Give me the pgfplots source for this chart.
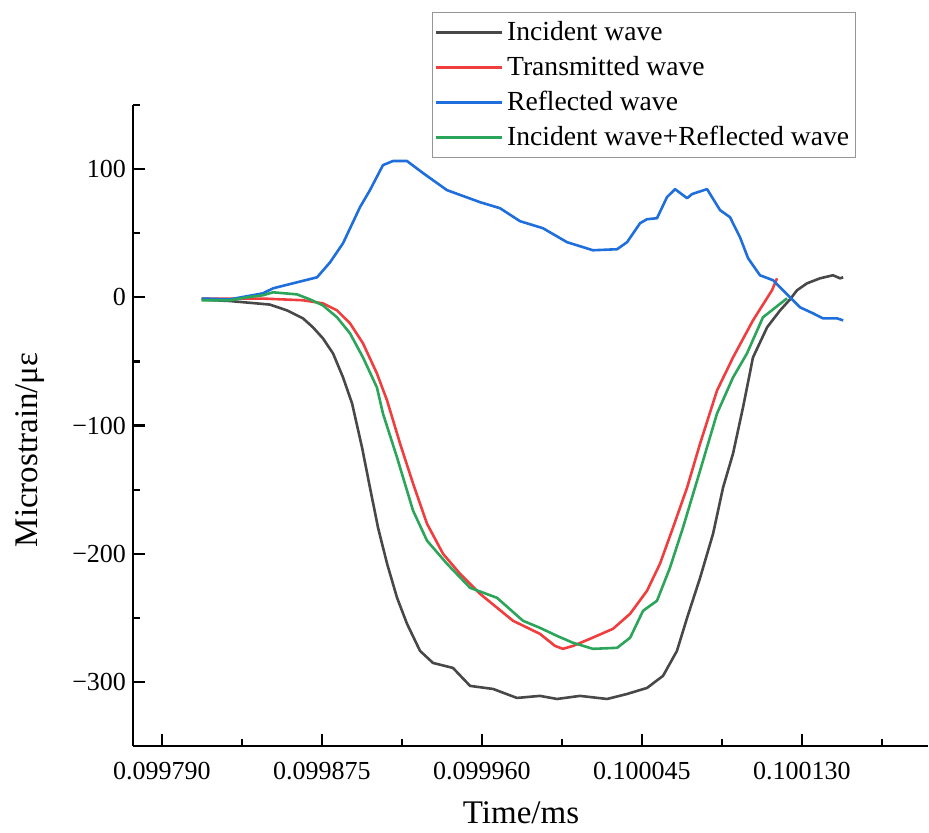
\documentclass[border=0pt]{standalone}
\usepackage{pgfplots}
\pgfplotsset{compat=1.18}
\usepackage{fontspec}
\setmainfont{Liberation Serif}
\definecolor{cInc}{RGB}{72,72,72}
\definecolor{cTra}{RGB}{240,62,62}
\definecolor{cRef}{RGB}{30,110,220}
\definecolor{cSum}{RGB}{42,165,90}
\begin{document}
\begin{tikzpicture}
\begin{axis}[
  name=ax, at={(0,0)}, anchor=south west,
  width=397.5pt, height=320.5pt, scale only axis,
  xmin=-15.4, xmax=407, ymin=-350, ymax=150,
  axis x line*=bottom, axis y line*=left,
  tick align=inside,
  axis line style={line width=1.1pt, black},
  every tick/.style={black, line width=1.1pt},
  major tick length=6pt, minor tick length=3.5pt,
  xtick={0,85,170,255,340},
  xticklabels={\textrm{0.099790},\textrm{0.099875},\textrm{0.099960},\textrm{0.100045},\textrm{0.100130}},
  minor xtick={42.5,127.5,212.5,297.5,382.5},
  ytick={-300,-200,-100,0,100},
  yticklabels={\textrm{−300},\textrm{−200},\textrm{−100},\textrm{0},\textrm{100}},
  minor ytick={-350,-250,-150,-50,50,150},
  xticklabel style={font=\fontsize{13}{15}\selectfont, yshift=-4.5pt},
  yticklabel style={font=\fontsize{13}{15}\selectfont},
  xlabel={Time/ms},
  ylabel={Microstrain/με},
  xlabel style={font=\fontsize{16.5}{19}\selectfont, at={(axis description cs:0.488,-0.1045)}, anchor=center},
  ylabel style={font=\fontsize{16.5}{19}\selectfont, at={(axis description cs:-0.1296,0.462)}, anchor=center},
  legend cell align=left,
  legend image code/.code={\draw[#1, line width=1.3pt] (0pt,0pt) -- (33pt,0pt);},
  legend style={at={(axis description cs:0.376,1.145)}, anchor=north west,
    draw={rgb,255:red,150;green,150;blue,150}, line width=0.6pt,
    font=\fontsize{13.8}{16}\selectfont, inner xsep=1pt, inner ysep=2.5pt,
    row sep=2.3pt},
]
\addplot[cInc, line width=1.3pt, line join=round] coordinates {
(21.1,-1.8)(36.1,-2.9)(48.4,-4.5)(57.4,-5.7)(66.4,-10.2)(74.9,-16.4)(80.2,-23.4)(85.5,-32.0)(90.9,-43.8)(96.2,-62.5)(101.0,-82.8)(106.3,-117.2)(110.5,-148.4)(114.8,-179.7)(119.6,-207.8)(124.9,-234.4)(130.2,-254.7)(137.1,-275.8)(144.0,-285.2)(154.6,-289.1)(163.7,-303.1)(175.9,-305.5)(188.6,-312.5)(200.8,-310.9)(209.9,-313.3)(222.1,-310.9)(236.5,-313.3)(247.1,-309.4)(257.7,-304.7)(266.2,-295.3)(273.6,-275.8)(279.0,-250.0)(285.9,-218.8)(292.8,-184.4)(298.1,-148.4)(303.4,-121.9)(308.7,-85.9)(314.0,-46.9)(321.5,-23.4)(328.4,-10.2)(333.7,-1.6)(337.4,5.5)(342.7,10.9)(349.6,14.8)(356.5,17.2)(360.3,14.8)(361.9,15.6)
};
\addlegendentry{Incident wave}
\addplot[cTra, line width=1.3pt, line join=round] coordinates {
(21.1,-1.0)(53.7,-1.0)(74.9,-2.3)(85.5,-4.7)(93.0,-10.2)(99.9,-20.3)(106.8,-35.9)(114.2,-59.4)(119.6,-80.5)(126.5,-114.1)(133.4,-145.3)(140.8,-176.6)(149.3,-200.0)(158.3,-215.6)(169.0,-231.3)(186.5,-252.3)(200.8,-262.5)(208.8,-271.9)(213.0,-274.2)(218.4,-271.9)(227.4,-266.4)(239.6,-258.6)(248.7,-246.9)(257.7,-228.9)(264.6,-207.8)(271.5,-179.7)(279.0,-148.4)(285.9,-114.1)(294.9,-72.7)(303.4,-46.9)(314.0,-18.0)(324.1,5.5)(326.8,14.8)
};
\addlegendentry{Transmitted wave}
\addplot[cRef, line width=1.3pt, line join=round] coordinates {
(21.1,-1.0)(36.1,-1.6)(53.6,3.1)(59.0,7.0)(71.7,11.7)(82.4,15.6)(89.3,27.3)(96.2,42.2)(105.2,70.3)(110.5,83.6)(117.4,103.1)(122.7,106.3)(130.2,106.3)(138.7,96.9)(151.4,83.6)(169.0,74.2)(179.6,69.5)(190.2,59.4)(202.4,53.9)(215.2,43.0)(229.0,36.7)(241.8,37.5)(247.1,43.0)(254.0,57.8)(257.7,60.9)(263.0,61.7)(268.3,78.1)(272.6,84.4)(279.0,77.3)(281.6,80.5)(289.6,84.4)(296.5,68.0)(301.8,62.5)(307.1,46.9)(311.4,30.5)(317.7,17.2)(324.7,13.3)(333.7,0)(339.0,-7.8)(345.9,-12.5)(351.2,-16.4)(358.7,-16.4)(361.9,-18.0)
};
\addlegendentry{Reflected wave}
\addplot[cSum, line width=1.3pt, line join=round] coordinates {
(21.1,-2.3)(36.1,-2.3)(45.2,0)(53.7,1.6)(59.0,3.9)(71.7,2.3)(78.6,-1.6)(85.5,-6.3)(93.0,-15.6)(99.9,-28.1)(106.8,-46.9)(114.2,-70.3)(117.4,-90.6)(124.9,-125.0)(133.4,-166.4)(140.8,-189.8)(151.4,-207.8)(163.7,-226.6)(178.0,-234.4)(191.8,-252.3)(200.8,-257.8)(209.9,-264.1)(218.4,-269.5)(229.0,-274.2)(241.8,-273.4)(248.7,-265.6)(255.6,-244.5)(263.0,-236.7)(269.9,-210.9)(276.8,-179.7)(285.9,-135.2)(294.9,-90.6)(303.4,-62.5)(310.8,-43.8)(319.3,-15.6)(332.1,-0.8)
};
\addlegendentry{Incident wave+Reflected wave}
\end{axis}
\pgfresetboundingbox
\useasboundingbox ([shift={(-66.5pt,-43pt)}]ax.south west) rectangle ([shift={(398pt,373pt)}]ax.south west);
\end{tikzpicture}
\end{document}
